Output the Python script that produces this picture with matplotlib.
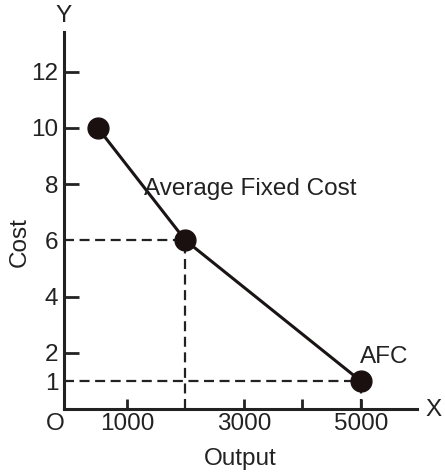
import matplotlib.pyplot as plt

# Average fixed cost schedule
output = [500, 2000, 5000]
cost = [10, 6, 1]

x_ticks = [1000, 2000, 3000, 4000, 5000]
x_labels = ['1000', '', '3000', '', '5000']
y_ticks = [1, 2, 4, 6, 8, 10, 12]
y_labels = ['1', '2', '4', '6', '8', '10', '12']

plt.rcParams['font.family'] = ['Liberation Sans', 'DejaVu Sans']
fs = 17.5

fig = plt.figure(figsize=(4.45, 4.73), dpi=100)
ax = fig.add_axes([0.1438, 0.135, 0.793, 0.797])

ax.set_xlim(-77, 5960)
ax.set_ylim(0, 13.4)

# guide lines
for xv, yv in zip(output[1:], cost[1:]):
    ax.plot([-77, xv], [yv, yv], color='#222222', lw=1.6, ls=(0, (4.5, 2.5)), zorder=1)
    ax.plot([xv, xv], [0, yv], color='#222222', lw=1.6, ls=(0, (4.5, 2.5)), zorder=1)

ax.plot(output, cost, color='#1a1414', lw=2.2, marker='o', markersize=15,
        markerfacecolor='#1a1010', markeredgecolor='#1a1010', zorder=3)

for s in ['top', 'right']:
    ax.spines[s].set_visible(False)
for s in ['left', 'bottom']:
    ax.spines[s].set_linewidth(2.2)
    ax.spines[s].set_color('#222222')

ax.set_xticks(x_ticks)
ax.set_xticklabels(x_labels)
ax.set_yticks(y_ticks)
ax.set_yticklabels(y_labels)
ax.tick_params(axis='x', direction='in', length=7, width=2, labelsize=fs, pad=3, colors='#222222')
ax.tick_params(axis='y', direction='in', length=11, width=2, labelsize=fs, pad=4, colors='#222222')
for t in ax.yaxis.get_major_ticks():
    if t.get_loc() in (1, 6):
        t.tick1line.set_visible(False)
for t in ax.xaxis.get_major_ticks():
    if t.get_loc() == 2000:
        t.tick1line.set_visible(False)

ax.text(1300, 7.6, 'Average Fixed Cost', fontsize=fs, color='#222222')
ax.text(4980, 1.65, 'AFC', fontsize=fs, color='#222222')

fig.text(64 / 445, 1 - 16 / 473, 'Y', fontsize=fs, ha='center', va='center', color='#222222')
fig.text(434 / 445, 1 - 410 / 473, 'X', fontsize=fs, ha='center', va='center', color='#222222')
fig.text(55 / 445, 1 - 424 / 473, 'O', fontsize=fs, ha='center', va='center', color='#222222')
fig.text(20 / 445, 1 - 242 / 473, 'Cost', fontsize=fs, ha='center', va='center',
         rotation=90, color='#222222')
fig.text(240 / 445, 1 - 459 / 473, 'Output', fontsize=fs, ha='center', va='center', color='#222222')

fig.savefig('out.png', dpi=100)
